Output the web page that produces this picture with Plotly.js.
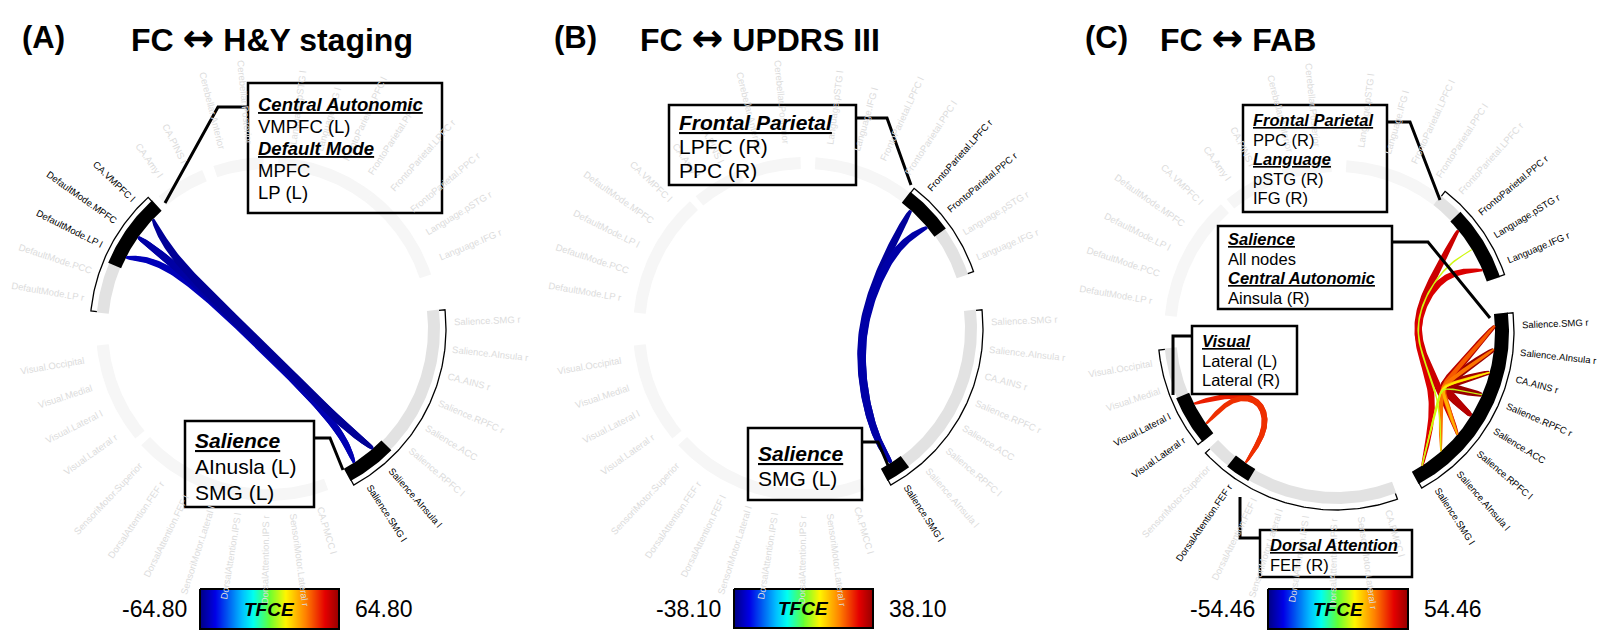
<!DOCTYPE html>
<html><head><meta charset="utf-8">
<script src="https://cdn.plot.ly/plotly-3.0.1.min.js"></script>
<style>body{margin:0;background:#fff}#chart{width:1602px;height:640px}</style>
</head><body><div id="chart"></div>
<script>
// ================= DATA =================
// Nodes of the connectogram, clockwise from the top, grouped into ring segments
const nodesLangFPLeft = ['Language.pSTG l','Language.IFG l','FrontoParietal.LPFC l','FrontoParietal.PPC l'];
const nodesLangFPRight = ['FrontoParietal.LPFC r','FrontoParietal.PPC r','Language.pSTG r','Language.IFG r'];
const nodesSalience = ['Salience.SMG r','Salience.AInsula r','CA.AINS r','Salience.RPFC r','Salience.ACC','Salience.RPFC l','Salience.AInsula l','Salience.SMG l'];
const nodesSensoriDorsal = ['CA.PMCC l','SensoriMotor.Lateral r','DorsalAttention.IPS r','DorsalAttention.IPS l','SensoriMotor.Lateral l','DorsalAttention.FEF l','DorsalAttention.FEF r','SensoriMotor.Superior'];
const nodesVisual = ['Visual.Lateral r','Visual.Lateral l','Visual.Medial','Visual.Occipital'];
const nodesDefaultMode = ['DefaultMode.LP r','DefaultMode.PCC','DefaultMode.LP l','DefaultMode.MPFC','CA.VMPFC l'];
const nodesCentralAutonomic = ['CA.Amy l','CA.PINS l'];
const nodesCerebellar = ['Cerebellar.Anterior','Cerebellar.Posterior'];

const panelLetters = ['(A)','(B)','(C)'];
const titleLeft = 'FC';
const titleArrow = '\u2194';
const titleRight = ['H&Y staging','UPDRS III','FAB'];
const tfceMax = [64.80, 38.10, 54.46];

// significant connections: [node, node, TFCE]  (drawn in this order)
const edgesHY = [
  ['DefaultMode.LP l','Salience.AInsula l',-48],
  ['DefaultMode.LP l','Salience.SMG l',-57],
  ['DefaultMode.MPFC','Salience.SMG l',-58],
  ['DefaultMode.MPFC','Salience.AInsula l',-60],
  ['CA.VMPFC l','Salience.AInsula l',-62]
];
const edgesUPDRS = [
  ['FrontoParietal.LPFC r','Salience.SMG l',-36],
  ['FrontoParietal.PPC r','Salience.SMG l',-35]
];
const edgesFAB = [
  ['Salience.AInsula r','Salience.RPFC r',54],
  ['CA.AINS r','Salience.ACC',53],
  ['Salience.SMG r','Salience.ACC',50],
  ['FrontoParietal.PPC r','Salience.RPFC l',47],
  ['Language.IFG r','Salience.SMG l',45],
  ['Visual.Lateral l','DorsalAttention.FEF r',40],
  ['Visual.Lateral r','DorsalAttention.FEF r',38],
  ['Salience.SMG r','Salience.RPFC l',33],
  ['Salience.AInsula r','Salience.AInsula l',30],
  ['CA.AINS r','Salience.RPFC l',22],
  ['CA.AINS r','Salience.SMG l',14],
  ['Language.pSTG r','Salience.AInsula l',9],
  ['Salience.RPFC r','Salience.SMG l',8]
];

// callout boxes: sections of [header, items...]
const calloutHY1 = [['Central Autonomic','VMPFC (L)'],['Default Mode','MPFC','LP (L)']];
const calloutHY2 = [['Salience','AInusla (L)','SMG (L)']];
const calloutUPDRS1 = [['Frontal Parietal','LPFC (R)','PPC (R)']];
const calloutUPDRS2 = [['Salience','SMG (L)']];
const calloutFAB1 = [['Frontal Parietal','PPC (R)'],['Language','pSTG (R)','IFG (R)']];
const calloutFAB2 = [['Salience','All nodes'],['Central Autonomic','Ainsula (R)']];
const calloutFAB3 = [['Visual','Lateral (L)','Lateral (R)']];
const calloutFAB4 = [['Dorsal Attention','FEF (R)']];
const colorbarLabel = 'TFCE';

// ================= LAYOUT / STYLE =================
const FONT = '"Liberation Sans", Arial, Helvetica, sans-serif';
const allGroups = [nodesLangFPLeft, nodesLangFPRight, nodesSalience, nodesSensoriDorsal, nodesVisual, nodesDefaultMode, nodesCentralAutonomic, nodesCerebellar];
const GAP_BEFORE = [3.5, 0, 12, 8, 3, 11, 2.5, 4];
const STEP = 8.5;
const CENTERS = [[268,329],[805,329],[1336,332]];
const R_IN = 160, R_OUT = 172, R_BR = 178, R_LAB = 186, R_HUB = 120;
const LABEL_SIZE = 9.5;
const panelEdges = [edgesHY, edgesUPDRS, edgesFAB];

const jetStops = [[0,[0,0,130]],[0.11,[0,0,230]],[0.3,[0,190,255]],[0.38,[0,255,240]],[0.5,[100,255,50]],[0.62,[255,245,0]],[0.76,[255,130,0]],[0.9,[228,0,0]],[1,[150,0,0]]];
function jet(t){
  t = Math.max(0, Math.min(1, t));
  for (let i=1;i<jetStops.length;i++){
    if (t <= jetStops[i][0]){
      const a = jetStops[i-1], b = jetStops[i];
      const f = (t - a[0])/(b[0]-a[0]);
      const c = a[1].map((v,k)=>Math.round(v + (b[1][k]-v)*f));
      return 'rgb('+c.join(',')+')';
    }
  }
  return 'rgb(150,0,0)';
}
const jetScale = jetStops.map(s=>[s[0],'rgb('+s[1].join(',')+')']);

// node angles (degrees clockwise from top)
const nodeAngle = {}, nodeGroup = {}, groupSpan = [];
(function(){
  let a = 0;
  allGroups.forEach((g, gi) => {
    a += GAP_BEFORE[gi];
    const s = a;
    g.forEach(n => { nodeAngle[n] = a + STEP/2; nodeGroup[n] = gi; a += STEP; });
    groupSpan.push([s, a]);
  });
})();

function pt(c, r, deg){ const t = deg*Math.PI/180; return [c[0] + r*Math.sin(t), c[1] - r*Math.cos(t)]; }
function sector(c, r0, r1, a0, a1){
  const xs=[], ys=[]; const n = Math.max(2, Math.ceil(Math.abs(a1-a0)/0.7)+1);
  for (let i=0;i<n;i++){ const p = pt(c, r1, a0+(a1-a0)*i/(n-1)); xs.push(p[0]); ys.push(p[1]); }
  for (let i=n-1;i>=0;i--){ const p = pt(c, r0, a0+(a1-a0)*i/(n-1)); xs.push(p[0]); ys.push(p[1]); }
  xs.push(xs[0]); ys.push(ys[0]);
  return [xs, ys];
}
function polyTrace(xs, ys, color){
  return {type:'scatter', mode:'lines', x:xs, y:ys, fill:'toself', fillcolor:color, line:{width:0, color:color}, hoverinfo:'skip', showlegend:false};
}
function lineTrace(xs, ys, color, width){
  return {type:'scatter', mode:'lines', x:xs, y:ys, line:{width:width, color:color}, hoverinfo:'skip', showlegend:false};
}
function bspline(ctrl, per){
  const out = [];
  for (let i=0;i<ctrl.length-3;i++){
    const [q0,q1,q2,q3] = [ctrl[i],ctrl[i+1],ctrl[i+2],ctrl[i+3]];
    const last = (i === ctrl.length-4);
    const m = last ? per : per-1;
    for (let k=0;k<=m;k++){
      const t = k/per, t2=t*t, t3=t2*t;
      const b0 = (1-t)*(1-t)*(1-t)/6, b1 = (3*t3-6*t2+4)/6, b2 = (-3*t3+3*t2+3*t+1)/6, b3 = t3/6;
      out.push([b0*q0[0]+b1*q1[0]+b2*q2[0]+b3*q3[0], b0*q0[1]+b1*q1[1]+b2*q2[1]+b3*q3[1]]);
    }
  }
  return out;
}

const traces = [], annotations = [], shapes = [];
const measure = document.createElement('canvas').getContext('2d');
measure.font = LABEL_SIZE + 'px "Liberation Sans"';

CENTERS.forEach((c, pi) => {
  const edges = panelEdges[pi];
  const vmax = tfceMax[pi];
  const hl = new Set();
  edges.forEach(e => { hl.add(e[0]); hl.add(e[1]); });
  const hlGroups = new Set([...hl].map(n => nodeGroup[n]));

  // ring segments
  allGroups.forEach((g, gi) => {
    const [s, e] = groupSpan[gi];
    const [xs, ys] = sector(c, R_IN, R_OUT, s, e);
    traces.push(polyTrace(xs, ys, hlGroups.has(gi) ? '#e2e2e2' : '#f6f6f6'));
  });
  // highlighted node runs (black)
  allGroups.forEach((g, gi) => {
    let run = null;
    const flush = () => { if (run){ const [xs,ys] = sector(c, R_IN-1, R_OUT+1, run[0], run[1]); traces.push(polyTrace(xs, ys, '#000')); run = null; } };
    g.forEach(n => {
      if (hl.has(n)){ const a0 = nodeAngle[n]-STEP/2, a1 = nodeAngle[n]+STEP/2; if (run) run[1] = a1; else run = [a0, a1]; }
      else flush();
    });
    flush();
  });
  // brackets
  hlGroups.forEach(gi => {
    const [s, e] = groupSpan[gi];
    const a0 = s + 0.3, a1 = e - 0.3;
    const xs = [], ys = [];
    let p = pt(c, R_BR-6, a0); xs.push(p[0]); ys.push(p[1]);
    const n = Math.ceil((a1-a0)/0.7)+1;
    for (let i=0;i<n;i++){ p = pt(c, R_BR, a0+(a1-a0)*i/(n-1)); xs.push(p[0]); ys.push(p[1]); }
    p = pt(c, R_BR-6, a1); xs.push(p[0]); ys.push(p[1]);
    traces.push(lineTrace(xs, ys, '#000', 1.3));
  });

  // hubs for edge bundling
  const hubAng = {};
  hlGroups.forEach(gi => {
    const ns = [...hl].filter(n => nodeGroup[n] === gi);
    hubAng[gi] = ns.reduce((s,n)=>s+nodeAngle[n],0)/ns.length;
  });
  edges.forEach(([s, t, v]) => {
    const gS = nodeGroup[s], gT = nodeGroup[t];
    const P0 = pt(c, R_IN-1, nodeAngle[s]), P1 = pt(c, R_IN-1, nodeAngle[t]);
    const H0 = pt(c, R_HUB, hubAng[gS] + 0.1*(nodeAngle[s]-hubAng[gS]));
    const H1 = pt(c, R_HUB, hubAng[gT] + 0.1*(nodeAngle[t]-hubAng[gT]));
    let ctrl;
    if (gS === gT){
      ctrl = [P0,P0,P0,H0,H1,P1,P1,P1];
    } else {
      let d = Math.abs(hubAng[gS]-hubAng[gT]); if (d > 180) d = 360 - d;
      const f = 1 - 0.36*Math.sin(d*Math.PI/180);
      const mid = [(H0[0]+H1[0])/2, (H0[1]+H1[1])/2];
      const M = [c[0] + f*(mid[0]-c[0]), c[1] + f*(mid[1]-c[1])];
      ctrl = [P0,P0,P0,H0,M,H1,P1,P1,P1];
    }
    const pts = bspline(ctrl, 30);
    const frac = Math.abs(v)/vmax;
    const wMid = (1.2 + 8*Math.pow(frac,1.6))/2, wEnd = 0.45;
    const L = [], Rr = [];
    for (let i=0;i<pts.length;i++){
      const a = pts[Math.max(0,i-1)], b = pts[Math.min(pts.length-1,i+1)];
      let tx = b[0]-a[0], ty = b[1]-a[1]; const len = Math.hypot(tx,ty) || 1; tx/=len; ty/=len;
      const u = i/(pts.length-1);
      const w = wEnd + (wMid-wEnd)*Math.pow(Math.sin(Math.PI*u), 0.8);
      L.push([pts[i][0] - ty*w, pts[i][1] + tx*w]);
      Rr.push([pts[i][0] + ty*w, pts[i][1] - tx*w]);
    }
    const poly = L.concat(Rr.reverse());
    poly.push(poly[0]);
    const col = jet((v + vmax)/(2*vmax));
    traces.push(polyTrace(poly.map(p=>p[0]), poly.map(p=>p[1]), col));
  });

  // node labels
  allGroups.flat().forEach(n => {
    const th = nodeAngle[n];
    const w = measure.measureText(n).width;
    const p = pt(c, R_LAB + w/2, th);
    const ang = th < 180 ? th - 90 : th - 270;
    annotations.push({x:p[0], y:p[1], xref:'x', yref:'y', text:n, showarrow:false, textangle:ang,
      font:{family:FONT, size:LABEL_SIZE, color: hl.has(n) ? '#000' : '#dcdcdc'},
      xanchor:'center', yanchor:'middle', borderpad:0});
  });
});

// ---- panel letters and titles
const letterX = [43, 575, 1106], titleX = [272, 760, 1238];
panelLetters.forEach((l, i) => {
  annotations.push({x:letterX[i], y:37, xref:'x', yref:'y', text:'<b>'+l+'</b>', showarrow:false, xanchor:'center', yanchor:'middle', font:{family:FONT, size:31, color:'#000'}});
  const t = '<b>'+titleLeft+' <span style="font-family:\'DejaVu Sans\';font-size:38px">'+titleArrow+'</span> '+titleRight[i].replace('&','&amp;')+'</b>';
  annotations.push({x:titleX[i], y:38, xref:'x', yref:'y', text:t, showarrow:false, xanchor:'center', yanchor:'middle', font:{family:FONT, size:32, color:'#000'}});
});

// ---- callout boxes [sections, x0,y0,x1,y1, fontsize, first line centre, line height]
const boxes = [
  [calloutHY1, 248, 83, 442, 213, 18.5, 104, 22],
  [calloutHY2, 185, 421, 314, 507, 21, 440, 26],
  [calloutUPDRS1, 669, 105, 856, 185, 21, 122, 24],
  [calloutUPDRS2, 748, 428, 862, 500, 21, 453, 25],
  [calloutFAB1, 1243, 105, 1387, 212, 16.5, 120, 19.6],
  [calloutFAB2, 1218, 226, 1392, 309, 16.5, 239, 19.7],
  [calloutFAB3, 1192, 326, 1297, 394, 16.5, 341, 19.5],
  [calloutFAB4, 1260, 530, 1412, 577, 16.5, 545, 19.5]
];
boxes.forEach(([sections, x0, y0, x1, y1, fs, ly0, lh]) => {
  shapes.push({type:'rect', xref:'x', yref:'y', x0:x0, y0:y0, x1:x1, y1:y1, line:{color:'#000', width:2.5}, fillcolor:'rgba(0,0,0,0)', layer:'above'});
  const lines = [];
  sections.forEach(sec => {
    lines.push('<b><i><span style="text-decoration:underline">'+sec[0]+'</span></i></b>');
    sec.slice(1).forEach(t => lines.push(t));
  });
  lines.forEach((txt, k) => {
    annotations.push({x:x0+9, y:ly0 + k*lh, xref:'x', yref:'y', text:txt, showarrow:false, xanchor:'left', yanchor:'middle', align:'left', borderpad:0, font:{family:FONT, size:fs, color:'#000'}});
  });
});

// ---- leader lines
const leaders = [
  [[247,218,165],[107,107,203]],
  [[314,330,343],[438,438,470]],
  [[856,887,911],[118,118,185]],
  [[862,878,890],[442,442,470]],
  [[1387,1410,1440],[122,122,200]],
  [[1392,1428,1490],[242,242,318]],
  [[1192,1173,1173],[336,336,395]],
  [[1260,1240,1240],[538,538,497]]
];
leaders.forEach(([xs, ys]) => traces.push(lineTrace(xs, ys, '#000', 3)));

// ---- colorbars
const bars = [[200,589,339,629],[734,589,873,628],[1268,589,1408,629]];
bars.forEach(([x0,y0,x1,y1], i) => {
  const vmax = tfceMax[i];
  const N = 140, dx = (x1-x0)/N;
  const row = []; for (let k=0;k<N;k++) row.push(-vmax + (k+0.5)/N*2*vmax);
  traces.push({type:'heatmap', x0:x0+dx/2, dx:dx, y:[y0+(y1-y0)/4, y0+3*(y1-y0)/4], z:[row,row], zmin:-vmax, zmax:vmax, colorscale:jetScale, showscale:false, hoverinfo:'skip'});
  traces.push(lineTrace([x0,x1,x1,x0,x0],[y0,y0,y1,y1,y0],'#000',2));
  annotations.push({x:x0-11, y:(y0+y1)/2, xref:'x', yref:'y', text:(-vmax).toFixed(2), showarrow:false, xanchor:'right', yanchor:'middle', font:{family:FONT, size:23, color:'#000'}});
  annotations.push({x:x1+14, y:(y0+y1)/2, xref:'x', yref:'y', text:vmax.toFixed(2), showarrow:false, xanchor:'left', yanchor:'middle', font:{family:FONT, size:23, color:'#000'}});
  annotations.push({x:(x0+x1)/2, y:(y0+y1)/2, xref:'x', yref:'y', text:'<b><i>'+colorbarLabel+'</i></b>', showarrow:false, xanchor:'center', yanchor:'middle', font:{family:FONT, size:19, color:'#000'}});
});

const layout = {
  width:1602, height:640, margin:{l:0,r:0,t:0,b:0},
  paper_bgcolor:'#fff', plot_bgcolor:'#fff',
  xaxis:{range:[0,1602], visible:false, fixedrange:true},
  yaxis:{range:[640,0], visible:false, fixedrange:true},
  showlegend:false, hovermode:false,
  annotations:annotations, shapes:shapes
};
Plotly.newPlot('chart', traces, layout, {staticPlot:true, displayModeBar:false});
</script>
</body></html>
